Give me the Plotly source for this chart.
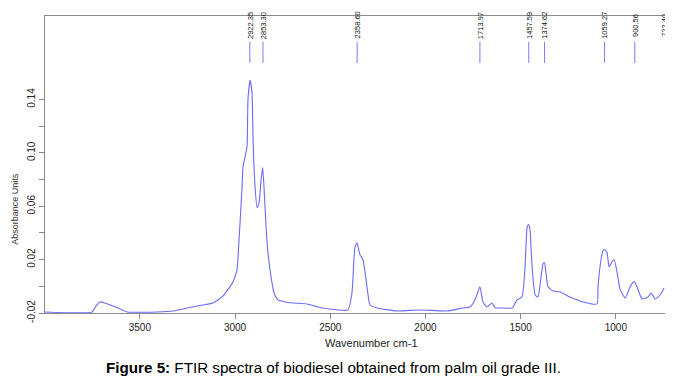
import plotly.graph_objects as go

# Spectrum (wavenumber cm-1, absorbance units)
wavenumber = [3998, 3751, 3730, 3709, 3683, 3657, 3614, 3567, 3410, 3326, 3200, 3116,
              3063, 3011, 2990, 2979, 2963, 2958, 2947, 2937, 2932, 2921, 2911, 2905,
              2895, 2884, 2874, 2863, 2855, 2848, 2837, 2827, 2811, 2795, 2774, 2737,
              2695, 2622, 2564, 2501, 2407, 2386, 2370, 2359, 2344, 2328, 2307, 2291,
              2254, 2149, 2028, 1887, 1803, 1766, 1740, 1714, 1698, 1677, 1650, 1634,
              1608, 1545, 1519, 1493, 1477, 1466, 1458, 1451, 1440, 1424, 1409, 1393,
              1382, 1375, 1367, 1356, 1330, 1293, 1241, 1172, 1099, 1094, 1078, 1067,
              1059, 1046, 1036, 1020, 1009, 993, 977, 951, 925, 909, 901, 883, 862,
              831, 815, 794, 768, 747]
absorbance = [-0.0192, -0.0192, -0.0147, -0.0117, -0.0125, -0.0140, -0.0162, -0.0192,
              -0.0192, -0.0185, -0.0147, -0.0125, -0.0072, 0.0033, 0.0123, 0.0349,
              0.0748, 0.0898, 0.0973, 0.1048, 0.1402, 0.1545, 0.1454, 0.1078, 0.0748,
              0.0590, 0.0627, 0.0800, 0.0890, 0.0748, 0.0447, 0.0251, 0.0071, -0.0050,
              -0.0102, -0.0117, -0.0125, -0.0132, -0.0155, -0.0170, -0.0177, -0.0050,
              0.0296, 0.0326, 0.0236, 0.0199, -0.0004, -0.0140, -0.0162, -0.0185,
              -0.0177, -0.0185, -0.0162, -0.0155, -0.0102, -0.0004, -0.0117, -0.0155,
              -0.0125, -0.0162, -0.0162, -0.0162, -0.0102, -0.0080, 0.0146, 0.0440,
              0.0462, 0.0424, 0.0146, -0.0065, -0.0080, 0.0071, 0.0170, 0.0176, 0.0101,
              -0.0004, -0.0035, -0.0042, -0.0080, -0.0117, -0.0132, -0.0004, 0.0199,
              0.0270, 0.0274, 0.0251, 0.0146, 0.0184, 0.0199, 0.0101, -0.0027, -0.0087,
              -0.0004, 0.0030, 0.0033, -0.0027, -0.0095, -0.0080, -0.0050, -0.0095,
              -0.0065, -0.0012]

# Peak picks
peak_positions = [2922.35, 2853.30, 2358.60, 1713.97, 1457.59, 1374.62, 1059.27, 900.56]
peak_labels = ["2922.35", "2853.30", "2358.60", "1713.97", "1457.59", "1374.62", "1059.27", "900.56"]
edge_peak_position = 744
edge_peak_label = "722.40"

x_tick_values = [3500, 3000, 2500, 2000, 1500, 1000]
x_tick_labels = ["3500", "3000", "2500", "2000", "1500", "1000"]
y_tick_values = [-0.02, 0.02, 0.06, 0.10, 0.14]
y_tick_labels = ["-0.02", "0.02", "0.06", "0.10", "0.14"]
y_minor_values = [0.0, 0.04, 0.08, 0.12]

axis_font = dict(family="Liberation Sans, Arial, sans-serif", size=10, color="#222222")

fig = go.Figure()
fig.add_trace(go.Scatter(
    x=wavenumber, y=absorbance, mode="lines",
    line=dict(color="#6a6aff", width=1.1, shape="spline", smoothing=0.5),
    hoverinfo="skip", showlegend=False,
))

# Peak marker lines
for p in peak_positions:
    fig.add_shape(type="line", xref="x", yref="paper", x0=p, x1=p, y0=0.842, y1=0.913,
                  line=dict(color="#7a7aff", width=1))
for p, t in zip(peak_positions + [edge_peak_position], peak_labels + [edge_peak_label]):
    fig.add_annotation(x=p, xref="x", y=0.969, yref="paper", text=t, textangle=-90,
                       showarrow=False,
                       font=dict(family="Liberation Sans Narrow, Liberation Sans, Arial", size=7.5, color="#111111"),
                       xanchor="center", yanchor="middle")

# The page body adds an 8 px offset, so the figure is sized to end at the window edge
fig.update_layout(
    width=665, height=373,
    margin=dict(l=37, r=8, t=8, b=68),
    paper_bgcolor="white", plot_bgcolor="white",
    xaxis=dict(range=[3998, 742], showgrid=False, zeroline=False,
               showline=True, mirror=True, linecolor="#8a8a8a", linewidth=1,
               ticks="outside", ticklen=5, tickcolor="#8a8a8a",
               tickvals=x_tick_values, ticktext=x_tick_labels, tickfont=axis_font),
    yaxis=dict(range=[-0.02, 0.2026], showgrid=False, zeroline=False,
               showline=True, linecolor="#8a8a8a", linewidth=1,
               ticks="outside", ticklen=5, tickcolor="#8a8a8a",
               tickvals=y_tick_values, ticktext=y_tick_labels, tickangle=-90,
               tickfont=axis_font,
               minor=dict(tickvals=y_minor_values, ticks="outside", ticklen=5, tickcolor="#8a8a8a")),
)

# Axis titles and caption
fig.add_annotation(x=-0.06, xref="paper", y=0.35, yref="paper", text="Absorbance Units",
                   textangle=-90, showarrow=False,
                   font=dict(family="Liberation Sans, Arial", size=9, color="#333333"))
fig.add_annotation(x=0.527, xref="paper", y=-0.1, yref="paper", text="Wavenumber cm-1",
                   showarrow=False, yanchor="middle",
                   font=dict(family="Liberation Sans, Arial", size=11, color="#222222"))
fig.add_annotation(x=0.466, xref="paper", y=-0.185, yref="paper",
                   text="<b>Figure 5:</b> FTIR spectra of biodiesel obtained from palm oil grade III.",
                   showarrow=False, yanchor="middle",
                   font=dict(family="Liberation Sans, Arial", size=15.2, color="#000000"))

fig.write_html("out.html")
